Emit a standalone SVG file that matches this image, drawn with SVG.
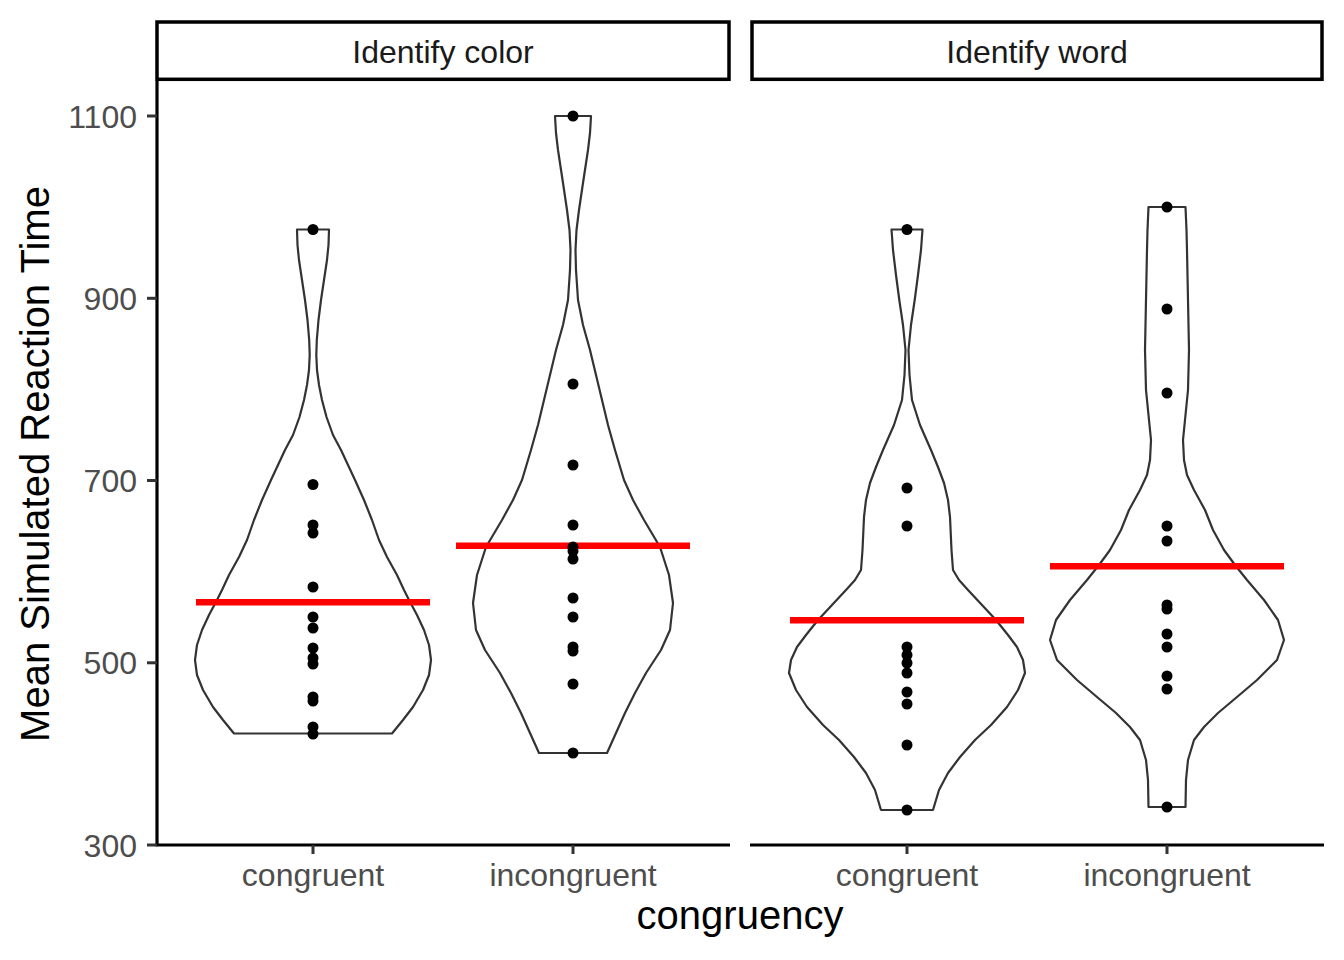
<svg xmlns="http://www.w3.org/2000/svg" width="1344" height="960" viewBox="0 0 1344 960">
<style>
text{font-family:"Liberation Sans",Arial,sans-serif}
.strip{fill:#fff;stroke:#000;stroke-width:3.5}
.stxt{font-size:32px;fill:#1A1A1A;text-anchor:middle}
.axis{stroke:#000;stroke-width:3.2;fill:none}
.tick{stroke:#333;stroke-width:3;fill:none}
.ylab{font-size:32px;fill:#4D4D4D;text-anchor:end}
.xlab{font-size:32px;fill:#4D4D4D;text-anchor:middle}
.title{font-size:40px;fill:#000;text-anchor:middle}
.violin{fill:#fff;stroke:#333;stroke-width:2.2;stroke-linejoin:round}
.mean{stroke:#FF0000;stroke-width:6.5}
.pt{fill:#000}
</style>
<rect width="1344" height="960" fill="#fff"/>

<g id="strip-color">
<rect class="strip" x="157" y="22" width="572" height="57.3"/>
<text class="stxt" x="443" y="62.5">Identify color</text>
</g>
<g id="strip-word">
<rect class="strip" x="752" y="22" width="570" height="57.3"/>
<text class="stxt" x="1037" y="62.5">Identify word</text>
</g>

<g id="axes">
<line class="axis" x1="157" y1="81" x2="157" y2="845"/>
<line class="axis" x1="155.5" y1="845" x2="730" y2="845"/>
<line class="axis" x1="750" y1="845" x2="1324" y2="845"/>
<g class="tick">
<line x1="147" y1="116" x2="157" y2="116"/>
<line x1="147" y1="298.3" x2="157" y2="298.3"/>
<line x1="147" y1="480.5" x2="157" y2="480.5"/>
<line x1="147" y1="662.8" x2="157" y2="662.8"/>
<line x1="147" y1="845" x2="157" y2="845"/>
<line x1="313" y1="845" x2="313" y2="854"/>
<line x1="573" y1="845" x2="573" y2="854"/>
<line x1="907" y1="845" x2="907" y2="854"/>
<line x1="1167" y1="845" x2="1167" y2="854"/>
</g>
<text class="ylab" x="137" y="127.5">1100</text>
<text class="ylab" x="137" y="309.8">900</text>
<text class="ylab" x="137" y="492">700</text>
<text class="ylab" x="137" y="674.3">500</text>
<text class="ylab" x="137" y="856.5">300</text>
<text class="xlab" x="313" y="886">congruent</text>
<text class="xlab" x="573" y="886">incongruent</text>
<text class="xlab" x="907" y="886">congruent</text>
<text class="xlab" x="1167" y="886">incongruent</text>
<text class="title" x="740" y="929">congruency</text>
<text class="title" transform="translate(49,464) rotate(-90)">Mean Simulated Reaction Time</text>
</g>

<g id="violin-color-congruent">
<path class="violin" d="M297,229.5 L329,229.5 L328.5,245 L327,260 L324,280 L321,300 L318.5,320 L316.8,340 L316.3,355 L317,370 L319,385 L322,400 L326.5,417 L333,435 L341,450 L348,465 L355,480 L364,500 L372,520 L379,540 L387,557 L397,575 L404,590 L409,600 L417,615 L424,630 L429,645 L431,660 L429,675 L423,690 L413,707 L403,720 L392,733.5 L234,733.5 L223,720 L213,707 L203,690 L197,675 L195,660 L197,645 L202,630 L209,615 L217,600 L222,590 L229,575 L239,557 L247,540 L254,520 L262,500 L271,480 L278,465 L285,450 L293,435 L299.5,417 L304,400 L307,385 L309,370 L309.7,355 L309.2,340 L307.5,320 L305,300 L302,280 L299,260 L297.5,245 Z"/>
<line class="mean" x1="196" y1="602.3" x2="430" y2="602.3"/>
<g class="pt">
<circle cx="313" cy="229.5" r="5.5"/><circle cx="313" cy="484.5" r="5.5"/><circle cx="313" cy="525" r="5.5"/><circle cx="313" cy="533" r="5.5"/><circle cx="313" cy="587" r="5.5"/><circle cx="313" cy="617" r="5.5"/><circle cx="313" cy="628" r="5.5"/><circle cx="313" cy="648" r="5.5"/><circle cx="313" cy="658" r="5.5"/><circle cx="313" cy="664" r="5.5"/><circle cx="313" cy="697" r="5.5"/><circle cx="313" cy="701" r="5.5"/><circle cx="313" cy="727" r="5.5"/><circle cx="313" cy="734" r="5.5"/>
</g>
</g>

<g id="violin-color-incongruent">
<path class="violin" d="M555,116 L591,116 L590,133 L588,150 L583,183 L579,210 L576.5,230 L575.5,250 L576,270 L578,300 L583,325 L590,350 L596,375 L602,400 L608,425 L615,450 L624,480 L633,500 L644,520 L660,547 L669,575 L673,603 L670,630 L661,650 L646,673 L635,693 L625,713 L616,733 L607,753 L539,753 L530,733 L521,713 L511,693 L500,673 L485,650 L476,630 L473,603 L477,575 L486,547 L502,520 L513,500 L522,480 L531,450 L538,425 L544,400 L550,375 L556,350 L563,325 L568,300 L570,270 L570.5,250 L569.5,230 L567,210 L563,183 L558,150 L556,133 Z"/>
<line class="mean" x1="456" y1="545.7" x2="690" y2="545.7"/>
<g class="pt">
<circle cx="573" cy="116" r="5.5"/><circle cx="573" cy="384" r="5.5"/><circle cx="573" cy="465" r="5.5"/><circle cx="573" cy="525" r="5.5"/><circle cx="573" cy="547" r="5.5"/><circle cx="573" cy="551" r="5.5"/><circle cx="573" cy="559" r="5.5"/><circle cx="573" cy="598" r="5.5"/><circle cx="573" cy="617" r="5.5"/><circle cx="573" cy="647" r="5.5"/><circle cx="573" cy="651" r="5.5"/><circle cx="573" cy="684" r="5.5"/><circle cx="573" cy="753" r="5.5"/>
</g>
</g>

<g id="violin-word-congruent">
<path class="violin" d="M891.5,229.5 L922.5,229.5 L921,250 L918,275 L914.7,300 L911,325 L908.5,350 L909.5,375 L912,400 L920,425 L931,450 L938,467 L944,483 L948,500 L950,517 L951.5,550 L953,570 L959,580 L968,590 L982,605 L996,620 L1008,635 L1017,647 L1023,660 L1025,673 L1018,690 L1007,707 L991,725 L975,740 L960,757 L948,773 L939,790 L933,810 L881,810 L875,790 L866,773 L854,757 L839,740 L823,725 L807,707 L796,690 L789,673 L791,660 L797,647 L806,635 L818,620 L832,605 L846,590 L855,580 L861,570 L862.5,550 L864,517 L866,500 L870,483 L876,467 L883,450 L894,425 L902,400 L904.5,375 L905.5,350 L903,325 L899.3,300 L896,275 L893,250 Z"/>
<line class="mean" x1="790" y1="620.3" x2="1024" y2="620.3"/>
<g class="pt">
<circle cx="907" cy="229.5" r="5.5"/><circle cx="907" cy="488" r="5.5"/><circle cx="907" cy="526" r="5.5"/><circle cx="907" cy="647" r="5.5"/><circle cx="907" cy="655" r="5.5"/><circle cx="907" cy="663" r="5.5"/><circle cx="907" cy="673" r="5.5"/><circle cx="907" cy="692" r="5.5"/><circle cx="907" cy="704" r="5.5"/><circle cx="907" cy="745" r="5.5"/><circle cx="907" cy="810" r="5.5"/>
</g>
</g>

<g id="violin-word-incongruent">
<path class="violin" d="M1148.5,207 L1185.5,207 L1186.5,230 L1187,250 L1188,300 L1189,350 L1188,390 L1185.5,415 L1183,440 L1184,460 L1187,475 L1194,490 L1205,510 L1213,530 L1224,550 L1235,565 L1247,580 L1264,600 L1278,620 L1284,640 L1277,660 L1257,680 L1237,697 L1218,713 L1204,727 L1194,740 L1188,760 L1186,780 L1185.5,807 L1148.5,807 L1148,780 L1146,760 L1140,740 L1130,727 L1116,713 L1097,697 L1077,680 L1057,660 L1050,640 L1056,620 L1070,600 L1087,580 L1099,565 L1110,550 L1121,530 L1129,510 L1140,490 L1147,475 L1150,460 L1151,440 L1148.5,415 L1146,390 L1145,350 L1146,300 L1147,250 L1147.5,230 Z"/>
<line class="mean" x1="1050" y1="566.3" x2="1284" y2="566.3"/>
<g class="pt">
<circle cx="1167" cy="207" r="5.5"/><circle cx="1167" cy="309" r="5.5"/><circle cx="1167" cy="393" r="5.5"/><circle cx="1167" cy="526" r="5.5"/><circle cx="1167" cy="541" r="5.5"/><circle cx="1167" cy="605" r="5.5"/><circle cx="1167" cy="609" r="5.5"/><circle cx="1167" cy="634" r="5.5"/><circle cx="1167" cy="647" r="5.5"/><circle cx="1167" cy="676" r="5.5"/><circle cx="1167" cy="689" r="5.5"/><circle cx="1167" cy="807" r="5.5"/>
</g>
</g>
</svg>
